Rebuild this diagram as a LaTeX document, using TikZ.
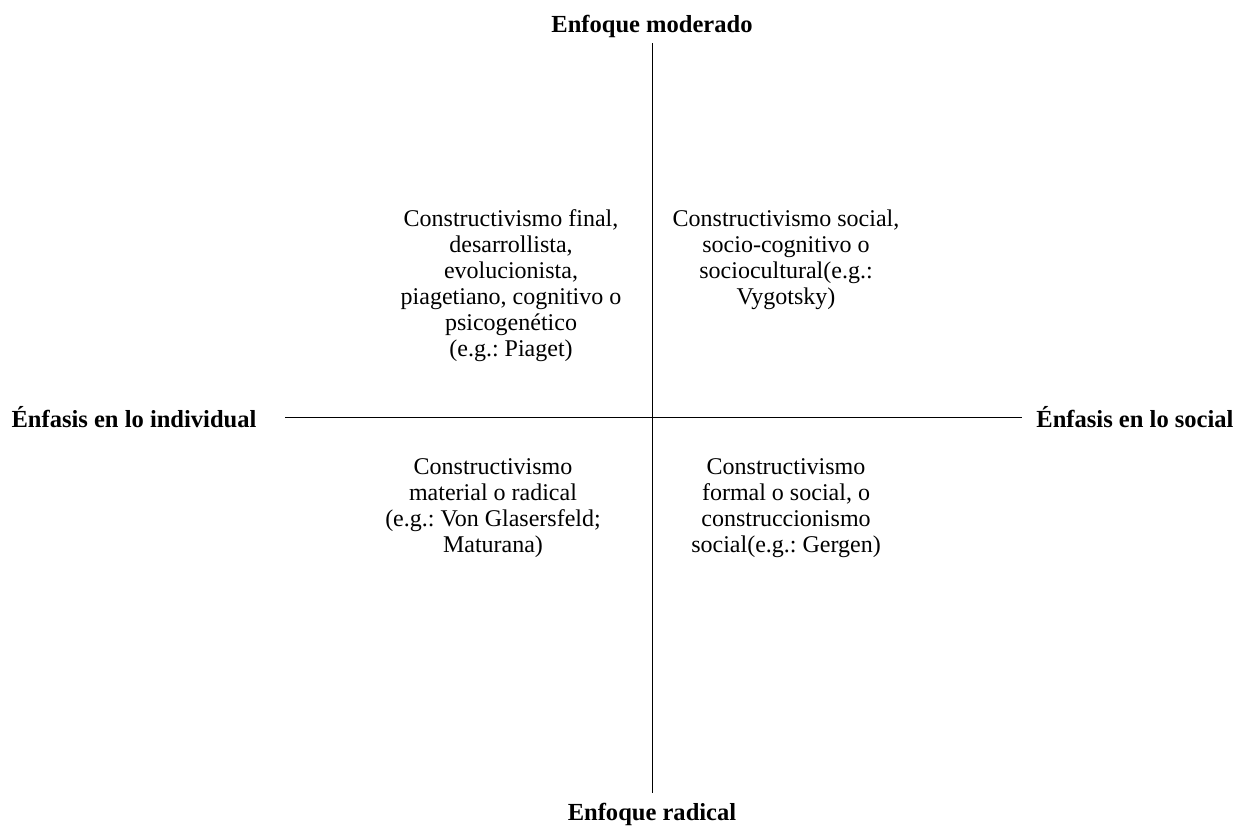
\documentclass[tikz,border=0pt]{standalone}
\usepackage{fontspec}
\setmainfont{Liberation Serif}
\usetikzlibrary{positioning}
\frenchspacing

\tikzset{
  axislabel/.style={font=\fontsize{13.5}{15}\selectfont\bfseries},
  quadtext/.style={align=center,font=\fontsize{13.2}{14.3}\selectfont},
  axisline/.style={draw=black,line width=0.45pt}
}

\begin{document}
\begin{tikzpicture}[x=0.55pt,y=-0.55pt]
\useasboundingbox (0,0) rectangle (1239,829);

% axis labels
\node[axislabel] (moderado) at (652,26) {Enfoque moderado};
\node[axislabel] (radical) at (652,814) {Enfoque radical};
\node[axislabel] (individual) at (134,417) {Énfasis en lo individual};
\node[axislabel] (social) at (1135,417) {Énfasis en lo social};

% axes
\coordinate (top) at (652,43);
\coordinate (bottom) at (652,793);
\coordinate (left) at (285,417);
\coordinate (right) at (1022,417);
\draw[axisline] (top) -- (bottom);
\draw[axisline] (left) -- (right);

% quadrants
\node[quadtext] (final) at (511,286) {Constructivismo final,\\desarrollista,\\evolucionista,\\piagetiano, cognitivo o\\psicogenético\\(e.g.: Piaget)};
\node[quadtext] (sociocult) at (786,260) {Constructivismo social,\\socio-cognitivo o\\sociocultural(e.g.:\\Vygotsky)};
\node[quadtext] (material) at (493,508) {Constructivismo\\material o radical\\(e.g.: Von Glasersfeld;\\Maturana)};
\node[quadtext] (formal) at (786,508) {Constructivismo\\formal o social, o\\construccionismo\\social(e.g.: Gergen)};
\end{tikzpicture}
\end{document}
